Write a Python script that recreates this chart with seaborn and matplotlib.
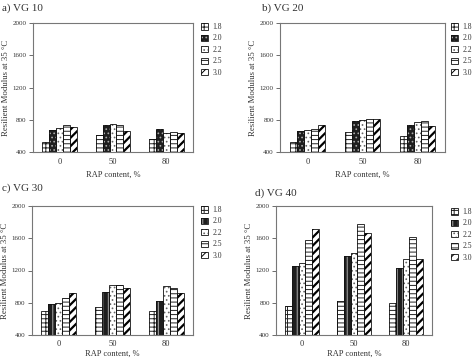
import matplotlib
matplotlib.use("Agg")
import matplotlib.pyplot as plt
from matplotlib.patches import Patch, Rectangle
import seaborn as sns
import pandas as pd

rap = ["0", "50", "80"]
ratios = ["1.8", "2.0", "2.2", "2.5", "3.0"]

# resilient modulus, one list per ratio, values at RAP 0 / 50 / 80
vg10 = {
    "1.8": [524, 606, 565],
    "2.0": [676, 730, 685],
    "2.2": [697, 742, 635],
    "2.5": [734, 734, 647],
    "3.0": [709, 660, 639],
}
vg20 = {
    "1.8": [524, 647, 602],
    "2.0": [656, 788, 734],
    "2.2": [672, 800, 767],
    "2.5": [685, 804, 779],
    "3.0": [730, 812, 726],
}
vg30 = {
    "1.8": [699, 744, 703],
    "2.0": [786, 939, 827],
    "2.2": [802, 1022, 1010],
    "2.5": [856, 1022, 989],
    "3.0": [927, 985, 919],
}
vg40 = {
    "1.8": [765, 816, 792],
    "2.0": [1262, 1386, 1235],
    "2.2": [1299, 1415, 1344],
    "2.5": [1584, 1773, 1617],
    "3.0": [1720, 1670, 1344],
}

panels = [("a) VG 10", vg10), ("b) VG 20", vg20), ("c) VG 30", vg30), ("d) VG 40", vg40)]

sns.set_style("white")
plt.rcParams["font.family"] = ["Liberation Serif", "DejaVu Serif"]
plt.rcParams["hatch.linewidth"] = 0.7

W, H = 474, 359
fig = plt.figure(figsize=(W / 100, H / 100), dpi=100)

# axes boxes in pixels: left, top, right, bottom
boxes = [(33, 23, 193, 152), (280, 23, 445, 152), (32, 206, 193, 335), (276, 206, 432, 335)]
title_pos = [(2, 8), (262, 8), (2, 188), (255, 193)]
legend_pos = [(201, 23), (451, 23), (201, 206), (451, 208)]


def bar_style(i, dark_vertical):
    # facecolor, hatch, hatch colour
    if i == 0:
        return "white", "----||", "#222222"
    if i == 1:
        return "#1e1e1e", ("|||" if dark_vertical else "...."), "#aaaaaa"
    if i == 2:
        return "white", "....", "#666666"
    if i == 3:
        return "white", "----", "#222222"
    return "white", "////", "#000000"


for k, (title, vals) in enumerate(panels):
    l, t, r, b = boxes[k]
    ax = fig.add_axes([l / W, 1 - b / H, (r - l) / W, (b - t) / H])
    rows = []
    for ratio in ratios:
        for x, v in zip(rap, vals[ratio]):
            rows.append({"RAP": x, "ratio": ratio, "Mr": v})
    df = pd.DataFrame(rows)
    sns.barplot(data=df, x="RAP", y="Mr", hue="ratio", hue_order=ratios,
                width=0.65, gap=0, legend=False, ax=ax, errorbar=None)

    dark_vertical = k >= 2
    for i, cont in enumerate(ax.containers):
        fc, hatch, hc = bar_style(i, dark_vertical)
        for p in cont:
            p.set_facecolor(fc)
            p.set_hatch(hatch)
            p.set_edgecolor(hc)
            p.set_linewidth(0)
            if i == 4:
                try:
                    p.set_hatch_linewidth(1.6)
                except AttributeError:
                    pass
            ax.add_patch(Rectangle(p.get_xy(), p.get_width(), p.get_height(),
                                   fill=False, ec="#111111", lw=0.6))

    ax.set_ylim(400, 2000)
    ax.set_xlim(-0.5, 2.5)
    ax.set_yticks([400, 800, 1200, 1600, 2000])
    ax.tick_params(axis="y", direction="out", length=3, width=0.6, color="#555555",
                   labelsize=5, labelcolor="#333333", pad=1.5, left=True)
    ax.tick_params(axis="x", length=0, labelsize=6, labelcolor="#333333",
                   pad=4 if k < 2 else 3.5)
    for s in ax.spines.values():
        s.set_color("#777777")
        s.set_linewidth(0.8)
    ax.set_xlabel("RAP content, %", fontsize=6, color="#333333",
                  labelpad=4 if k < 2 else 1.5)
    ax.set_ylabel("Resilient Modulus at 35 °C", fontsize=6.3, color="#333333", labelpad=2)

    tx, ty = title_pos[k]
    fig.text(tx / W, 1 - ty / H, title, fontsize=8, color="#333333", va="center", ha="left")

    handles = []
    for i, ratio in enumerate(ratios):
        fc, hatch, hc = bar_style(i, dark_vertical)
        fill = Patch(facecolor=fc, hatch=hatch, edgecolor=hc, linewidth=0)
        outline = Patch(fill=False, edgecolor="#111111", linewidth=0.6)
        handles.append((fill, outline))
    lx, ly = legend_pos[k]
    leg = fig.legend(handles, ratios, loc="upper left", bbox_to_anchor=(lx / W, 1 - ly / H),
                     frameon=False, fontsize=5.5, handlelength=0.9, handleheight=0.9,
                     handletextpad=0.6, labelspacing=0.45, borderpad=0, borderaxespad=0)
    for txt in leg.get_texts():
        txt.set_color("#333333")

fig.savefig("out.png", dpi=100)
